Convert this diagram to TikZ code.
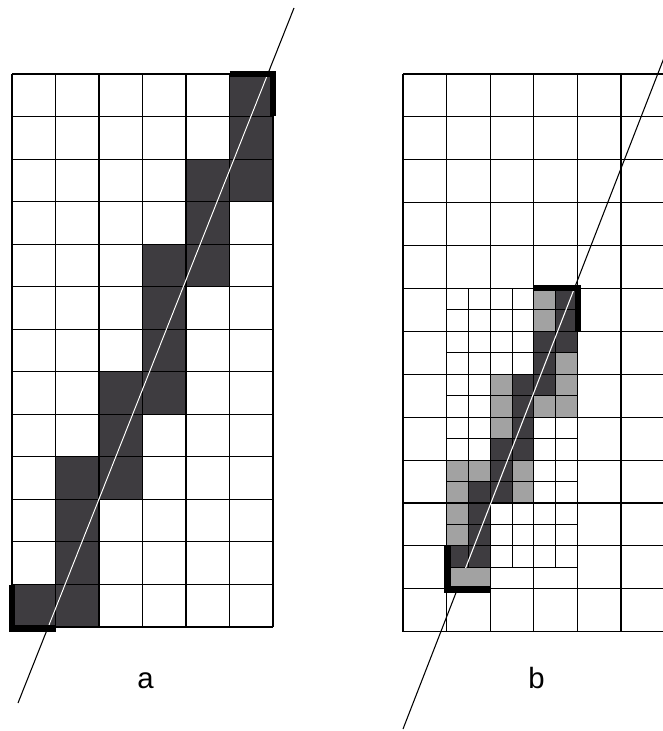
\documentclass[tikz,border=0pt]{standalone}
\usepackage{fontspec}
\setmainfont{Liberation Sans}
\definecolor{darkcell}{RGB}{62,60,64}
\definecolor{lightcell}{RGB}{162,162,162}
\tikzset{
  gridline/.style={line width=0.8pt, draw=black},
  thickmark/.style={line width=4.6pt, draw=black, line join=miter},
  slopeline/.style={line width=0.8pt, draw=black},
  whiteline/.style={line width=0.8pt, draw=white},
  lbl/.style={font=\fontsize{22}{26}\selectfont, anchor=base, inner sep=0pt}
}
\begin{document}
\begin{tikzpicture}[x=0.75pt,y=-0.75pt]
\clip (0,0) rectangle (663,731);
\fill[white] (0,0) rectangle (663,731);
% ---------------- left grid (a) ----------------
\foreach \c/\r in {5/0,5/1,4/2,5/2,4/3,3/4,4/4,3/5,3/6,2/7,3/7,2/8,1/9,2/9,1/10,1/11,0/12,1/12}
  \fill[darkcell] ({12+43.5*\c},{74+42.54*\r}) rectangle ++(43.5,42.54);
\foreach \i in {0,...,6}
  \draw[gridline] ({12+43.5*\i},74) -- ({12+43.5*\i},627);
\foreach \j in {0,...,13}
  \draw[gridline] (12,{74+42.54*\j}) -- (273,{74+42.54*\j});
\coordinate (aTop) at (294,8);
\coordinate (aBot) at (18,703);
\draw[slopeline] (aBot) -- (aTop);
\begin{scope}
  \clip (0,74) rectangle (300,627);
  \draw[whiteline] (aBot) -- (aTop);
\end{scope}
\draw[thickmark] (229.5,74) -- (273,74) -- (273,116.5);
\draw[thickmark] (12,584.5) -- (12,628.5) -- (55.5,628.5);
\node[lbl] (la) at (145.5,688) {a};
% ---------------- right grid (b) ----------------
\coordinate (bTop) at (669,45);
\coordinate (bBot) at (403,729);
\draw[slopeline] (bBot) -- (bTop);
% fine cells: j = column (x), i = row (y)
\foreach \j/\i in {5/0,5/1,4/2,5/2,4/3,3/4,4/4,3/5,3/6,2/7,3/7,2/8,1/9,2/9,1/10,1/11,0/12,1/12}
  \fill[darkcell] ({446.7+21.8*\j},{288.5+21.45*\i}) rectangle ++(21.8,21.45);
\foreach \j/\i in {4/0,4/1,5/3,2/4,5/4,2/5,4/5,5/5,2/6,0/8,1/8,3/8,0/9,3/9,0/10,0/11}
  \fill[lightcell] ({446.7+21.8*\j},{288.5+21.45*\i}) rectangle ++(21.8,21.45);
\fill[lightcell] (446.7,567.4) rectangle (490.3,588.8);
% coarse grid
\foreach \i in {0,...,6}
  \draw[gridline] ({403+43.6*\i},74) -- ({403+43.6*\i},631.7);
\foreach \j in {0,...,13}
  \draw[gridline] (403,{74+42.9*\j}) -- (666,{74+42.9*\j});
% fine grid
\foreach \i in {1,3,...,13}
  \draw[gridline] (446.7,{288.5+21.45*\i}) -- (577.3,{288.5+21.45*\i});
\foreach \j in {1,3,5}
  \draw[gridline] ({446.7+21.8*\j},288.5) -- ({446.7+21.8*\j},567.4);
\begin{scope}
  \clip (380,288.5) rectangle (663,567.4);
  \draw[whiteline] (bBot) -- (bTop);
\end{scope}
\draw[thickmark] (533,288) -- (577.8,288) -- (577.8,331.4);
\draw[thickmark] (447.5,545.9) -- (447.5,589.5) -- (491,589.5);
\node[lbl] (lb) at (536.5,688) {b};
\end{tikzpicture}
\end{document}
